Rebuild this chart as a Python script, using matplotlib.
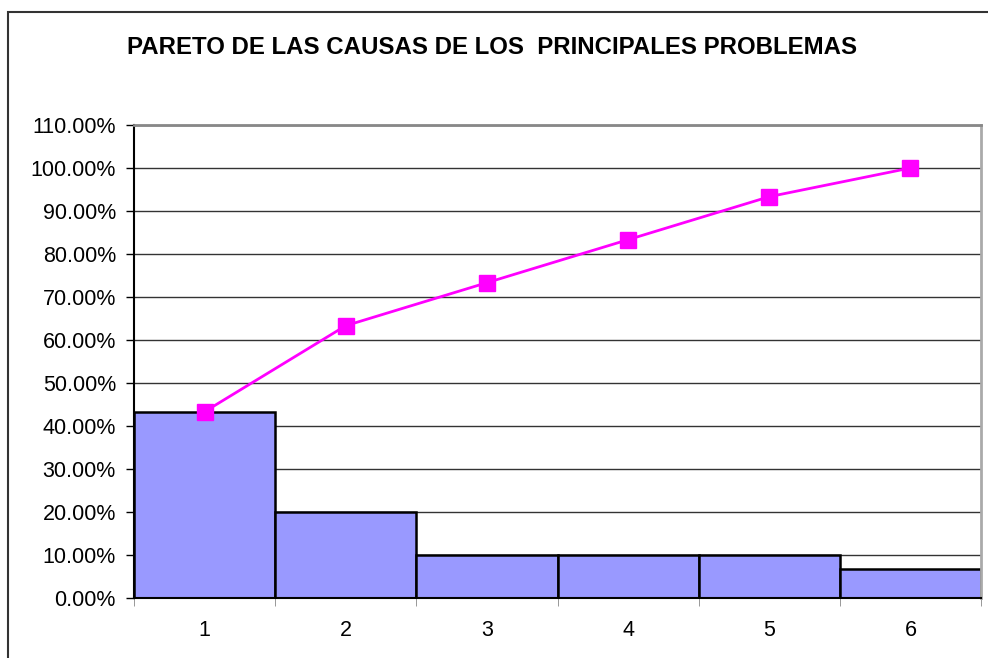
import matplotlib.pyplot as plt
from matplotlib.patches import Rectangle
from matplotlib.ticker import PercentFormatter, FixedLocator

# data
causes = [1, 2, 3, 4, 5, 6]
pct = [43.33, 20.0, 10.0, 10.0, 10.0, 6.67]
cum_pct = [43.33, 63.33, 73.33, 83.33, 93.33, 100.0]
yticks = [0, 10, 20, 30, 40, 50, 60, 70, 80, 90, 100, 110]

plt.rcParams['font.family'] = ['Liberation Sans', 'DejaVu Sans']

fig = plt.figure(figsize=(9.88, 6.58), dpi=100)
ax = fig.add_axes([134/988, 60/658, (981-134)/988, (598-125)/658])

# outer chart border (cropped on right / bottom)
fig.patches.append(Rectangle((8/988, -0.1), 1.2, 0.1 + (658-12)/658, transform=fig.transFigure,
                             fill=False, edgecolor='#333333', linewidth=1.5))

ax.bar(causes, pct, width=1.0, color='#9999FF', edgecolor='black', linewidth=1.8, zorder=2)
ax.plot(causes, cum_pct, color='#FF00FF', linewidth=2, marker='s', markersize=11, zorder=3)

ax.set_xlim(0.5, 6.5)
ax.set_ylim(0, 110)
ax.set_yticks(yticks)
ax.yaxis.set_major_formatter(PercentFormatter(decimals=2))
ax.yaxis.grid(True, color='#333333', linewidth=1, zorder=0)
ax.set_axisbelow(True)

ax.set_xticks(causes)
ax.set_xticklabels([str(c) for c in causes])
ax.xaxis.set_minor_locator(FixedLocator([0.5, 1.5, 2.5, 3.5, 4.5, 5.5, 6.5]))
ax.tick_params(axis='x', which='major', length=0, pad=16, labelsize=15.5)
ax.tick_params(axis='x', which='minor', length=6, color='#888888', direction='out')
ax.tick_params(axis='y', length=6, width=1, labelsize=15.5, pad=7)

ax.spines['top'].set_color('#888888')
ax.spines['top'].set_linewidth(2)
ax.spines['right'].set_color('#aaaaaa')
ax.spines['right'].set_linewidth(2)
ax.spines['left'].set_linewidth(1.5)
ax.spines['bottom'].set_linewidth(1.5)

fig.text(492/988, 1 - 47/658, 'PARETO DE LAS CAUSAS DE LOS  PRINCIPALES PROBLEMAS',
         ha='center', va='center', fontsize=17.3, fontweight='bold')

fig.savefig('out.png', dpi=100)
